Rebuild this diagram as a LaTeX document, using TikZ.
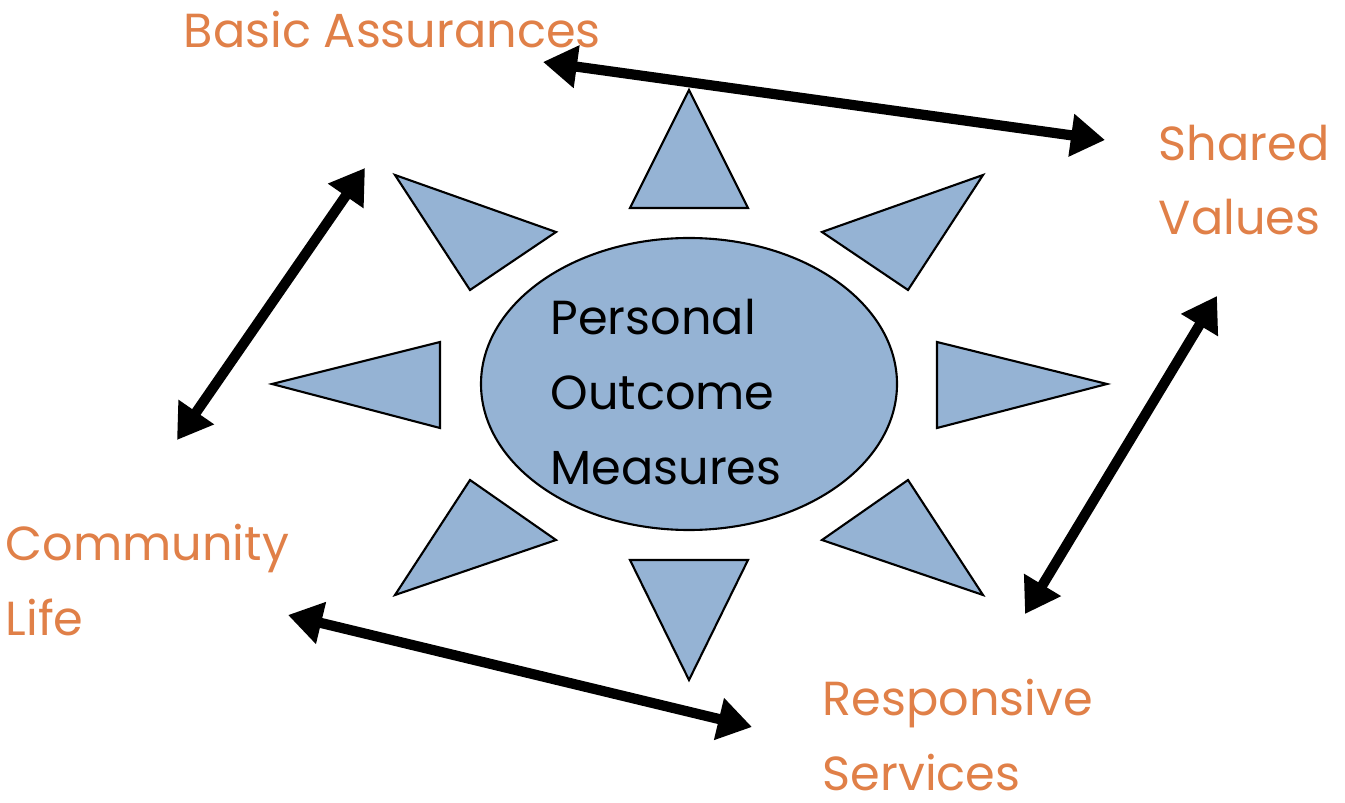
\documentclass[tikz,border=0pt]{standalone}
\usepackage{fontspec}
\setmainfont{Poppins}
\usetikzlibrary{arrows.meta}
\definecolor{rayblue}{RGB}{149,179,212}
\definecolor{labelorange}{RGB}{224,128,72}
\tikzset{
  ray/.style={fill=rayblue, draw=black, line width=0.6pt, line join=miter},
  label text/.style={text=labelorange, align=left, anchor=west, inner sep=0pt,
    font=\fontsize{13.6}{21.3}\selectfont},
  link/.style={line width=2.9pt, {Triangle[length=3.4mm,width=4.1mm]}-{Triangle[length=3.4mm,width=4.1mm]}}
}
\begin{document}
\begin{tikzpicture}
        \useasboundingbox (0,0) rectangle (13.45,-8.03);
        % Draw the eight rays round the centre
        \foreach \a/\b/\c in {
            {(6.89,-0.90)}/{(6.30,-2.08)}/{(7.48,-2.08)},
            {(8.22,-2.32)}/{(9.83,-1.75)}/{(9.08,-2.90)},
            {(9.37,-3.42)}/{(11.07,-3.84)}/{(9.37,-4.28)},
            {(8.22,-5.40)}/{(9.08,-4.80)}/{(9.83,-5.95)},
            {(6.30,-5.60)}/{(7.48,-5.60)}/{(6.89,-6.80)},
            {(5.56,-5.40)}/{(4.70,-4.80)}/{(3.95,-5.95)},
            {(4.40,-3.42)}/{(2.72,-3.84)}/{(4.40,-4.28)},
            {(5.56,-2.32)}/{(3.95,-1.75)}/{(4.70,-2.90)}}
            \draw[ray] \a -- \b -- \c -- cycle;
        % Draw the centre ellipse
        \draw[ray] (6.89,-3.84) ellipse [x radius=2.08, y radius=1.46];
        \node[align=left, font=\fontsize{13.6}{21.3}\selectfont] (pom) at (6.66,-3.92)
            {Personal\\Outcome\\Measures};
        % Outer labels
        \node[label text] (basic) at (1.83,-0.30) {Basic Assurances};
        \node[label text] (shared) at (11.58,-1.80) {Shared\\Values};
        \node[label text] (community) at (0.05,-5.80) {Community\\Life};
        \node[label text] (responsive) at (8.22,-7.35) {Responsive\\Services};
        % Arrow ends
        \coordinate (basic end) at (5.43,-0.62);
        \coordinate (shared end) at (11.05,-1.40);
        \coordinate (shared low) at (12.17,-2.96);
        \coordinate (responsive top) at (10.25,-6.14);
        \coordinate (responsive end) at (7.52,-7.27);
        \coordinate (community end) at (2.88,-6.15);
        \coordinate (community top) at (1.77,-4.40);
        \coordinate (basic low) at (3.65,-1.68);
        % Draw the double arrows
        \draw[link] (basic end) -- (shared end);
        \draw[link] (shared low) -- (responsive top);
        \draw[link] (community end) -- (responsive end);
        \draw[link] (basic low) -- (community top);
\end{tikzpicture}
\end{document}
